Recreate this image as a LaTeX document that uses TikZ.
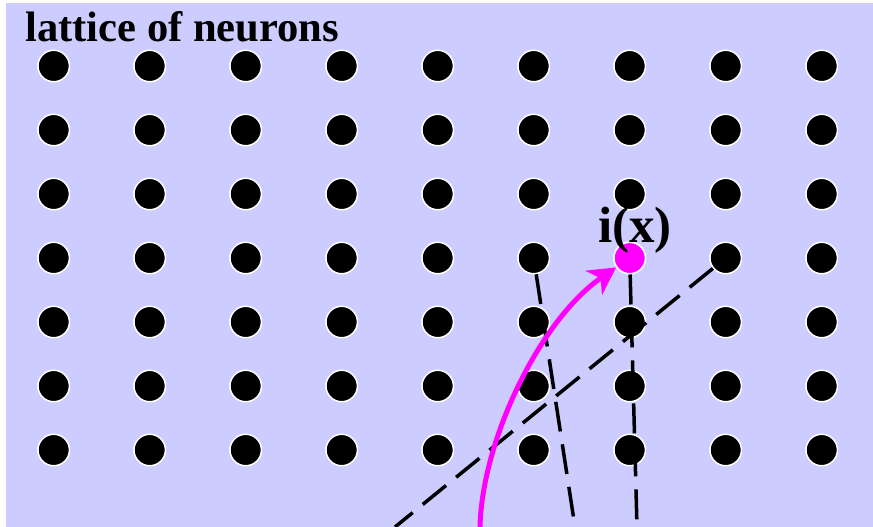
\documentclass[tikz,border=0pt]{standalone}
\usepackage{fontspec}
\setmainfont{Liberation Serif}
\usetikzlibrary{positioning, arrows.meta}
\definecolor{lattbg}{RGB}{204,204,255}
\definecolor{winmag}{RGB}{255,0,255}

\begin{document}
\begin{tikzpicture}[x=1pt, y=-1pt,
	neuron/.style={circle, fill=black, draw=white, line width=1.5pt, minimum size=31.5pt, inner sep=0pt},
	winner/.style={neuron, fill=winmag},
	link/.style={black, line width=3.5pt, dash pattern=on 30pt off 13pt},
	pull/.style={winmag, line width=5pt, -{Stealth[length=27pt, width=29pt, inset=8pt]}},
	bigtext/.style={font=\bfseries\fontsize{42.6}{48}\selectfont, anchor=base west, inner sep=0pt}]
	\useasboundingbox (0,0) rectangle (873,527);
	\fill[lattbg] (6,3) rectangle (873,527);
	\node[bigtext] (title) at (25,42) {lattice of neurons};
	\foreach \c in {0,...,8}{
		\foreach \r in {0,...,6}{
			\node[neuron] (n-\c-\r) at (53.7+96*\c, 66+64*\r) {};
		}
	}
	% winning neuron and its label
	\node[winner] (ix) at (n-6-3) {};
	\node[bigtext, font=\bfseries\fontsize{51}{56}\selectfont] (ixlabel) at (598,242) {i(x)};
	% lines leaving the lattice
	\coordinate (e1) at (575,527);
	\coordinate (e2) at (637,527);
	\coordinate (e3) at (395,527);
	\coordinate (src) at (480,527);
	\draw[link] (n-5-3) -- (e1);
	\draw[link] (ix) -- (e2);
	\draw[link] (n-7-3) -- (e3);
	\draw[pull] (src) .. controls (482,440) and (540,320) .. (ix);
\end{tikzpicture}
\end{document}
